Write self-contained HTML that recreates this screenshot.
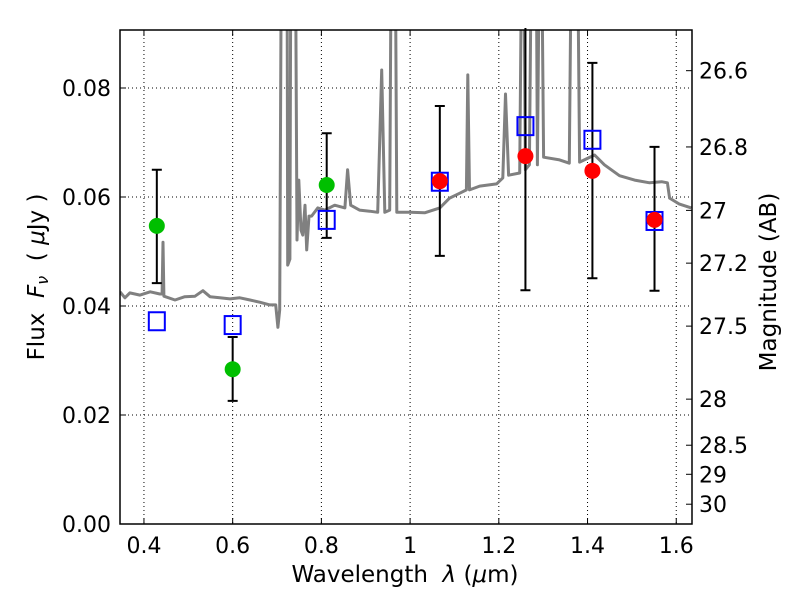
<!DOCTYPE html>
<html><head><meta charset="utf-8">
<style>
body{margin:0;background:#fff;}
svg{display:block;font-family:"DejaVu Sans","Liberation Sans",sans-serif;}
text{white-space:pre;}
</style></head>
<body>
<svg id="chart" width="800" height="600" viewBox="0 0 800 600" xmlns="http://www.w3.org/2000/svg">
<defs><clipPath id="clip"><rect x="120" y="30" width="572" height="494"/></clipPath></defs>
<rect x="0" y="0" width="800" height="600" fill="#fff"/>
<g id="grid"></g>
<g id="marks" clip-path="url(#clip)"></g>
<g id="errs"></g>
<g id="pts"></g>
<rect x="120" y="30" width="572" height="494" fill="none" stroke="#000" stroke-width="1.5"/>
<g id="axes"></g>
<text x="405" y="582" font-size="23" text-anchor="middle">Wavelength  <tspan font-style="italic">λ</tspan> (<tspan font-style="italic">μ</tspan>m)</text>
<text transform="translate(44,277) rotate(-90)" font-size="23" text-anchor="middle">Flux  <tspan font-style="italic">F<tspan font-size="16" dy="4">ν</tspan></tspan><tspan dy="-4">  ( </tspan><tspan font-style="italic">μ</tspan>Jy )</text>
<text transform="translate(776,282) rotate(-90)" font-size="23" text-anchor="middle">Magnitude (AB)</text>
</svg>
<script>
const specWave=[0.346,0.357,0.368,0.391,0.414,0.436,0.441,0.443,0.445,0.470,0.492,0.515,0.533,0.549,0.571,0.594,0.616,0.639,0.661,0.684,0.697,0.702,0.706,0.711,0.716,0.719,0.722,0.724,0.729,0.732,0.734,0.737,0.740,0.745,0.749,0.754,0.758,0.763,0.767,0.772,0.778,0.792,0.808,0.830,0.853,0.859,0.866,0.886,0.909,0.927,0.936,0.943,0.954,0.959,0.962,0.965,0.970,1.000,1.033,1.067,1.089,1.112,1.127,1.130,1.134,1.157,1.195,1.209,1.215,1.222,1.247,1.254,1.260,1.269,1.276,1.283,1.287,1.294,1.301,1.337,1.359,1.366,1.375,1.382,1.416,1.438,1.472,1.506,1.540,1.567,1.580,1.585,1.607,1.634];
const specFlux=[0.0426,0.0415,0.0424,0.0420,0.0426,0.0422,0.0422,0.0517,0.0418,0.0411,0.0417,0.0418,0.0428,0.0417,0.0415,0.0413,0.0415,0.0411,0.0407,0.0402,0.0402,0.0361,0.0393,0.13,0.13,0.13,0.13,0.0475,0.0486,0.13,0.13,0.13,0.13,0.0521,0.0631,0.0539,0.0530,0.0585,0.0503,0.0565,0.0565,0.0580,0.0576,0.0585,0.0580,0.0650,0.0585,0.0576,0.0574,0.0572,0.0833,0.0572,0.0576,0.13,0.13,0.13,0.0572,0.0572,0.0571,0.0580,0.0598,0.0607,0.0613,0.0824,0.0613,0.0620,0.0624,0.0635,0.0789,0.0640,0.0644,0.13,0.0650,0.0659,0.13,0.13,0.0659,0.13,0.0673,0.0668,0.0662,0.13,0.13,0.0664,0.0677,0.0659,0.0639,0.0631,0.0626,0.0628,0.0626,0.0598,0.0587,0.0580];
const greenWave=[0.429,0.600,0.812];
const greenFlux=[0.0547,0.0284,0.0622];
const greenHi=[0.0650,0.0343,0.0717];
const greenLo=[0.0442,0.0226,0.0525];
const redWave=[1.067,1.260,1.411,1.551];
const redFlux=[0.0629,0.0675,0.0648,0.0558];
const redHi=[0.0767,0.12,0.0846,0.0692];
const redLo=[0.0492,0.0429,0.0451,0.0428];
const modelWave=[0.429,0.600,0.812,1.067,1.260,1.411,1.551];
const modelFlux=[0.0372,0.0365,0.0558,0.0628,0.0730,0.0705,0.0556];
const xTicks=[0.4,0.6,0.8,1.0,1.2,1.4,1.6];
const xTickLabels=["0.4","0.6","0.8","1","1.2","1.4","1.6"];
const yTicks=[0,0.02,0.04,0.06,0.08];
const yTickLabels=["0.00","0.02","0.04","0.06","0.08"];
const magTicks=[26.6,26.8,27,27.2,27.5,28,28.5,29,30];
const magTickLabels=["26.6","26.8","27","27.2","27.5","28","28.5","29","30"];

const X0=120,X1=692,Y0=524,Y1=30;
const xMin=0.346,xMax=1.6355,yMin=0,yMax=0.09064;
const sx=v=>X0+(v-xMin)/(xMax-xMin)*(X1-X0);
const sy=v=>Y0-(v-yMin)/(yMax-yMin)*(Y0-Y1);
const magToFlux=m=>Math.pow(10,-0.4*(m-23.9));
const NS="http://www.w3.org/2000/svg";
function mk(tag,attrs,parent){const e=document.createElementNS(NS,tag);for(const k in attrs)e.setAttribute(k,attrs[k]);parent.appendChild(e);return e;}
const grid=document.getElementById('grid'),marks=document.getElementById('marks'),errs=document.getElementById('errs'),pts=document.getElementById('pts'),axes=document.getElementById('axes');

xTicks.forEach((t,i)=>{
  const x=sx(t);
  const g=mk('line',{x1:x,x2:x,y1:Y1,y2:Y0,stroke:'#000','stroke-width':1,'stroke-dasharray':'1,3'},grid);
  
  
  const a=mk('line',{x1:x,x2:x,y1:Y0,y2:Y0-6,stroke:'#000','stroke-width':1},axes);
  
  
  const b=mk('line',{x1:x,x2:x,y1:Y1,y2:Y1+6,stroke:'#000','stroke-width':1},axes);
  
  
  const l=mk('text',{x:x,y:Y0+29,'font-size':22,'text-anchor':'middle'},axes);
  l.textContent=xTickLabels[i];
  
  
});
yTicks.forEach((t,i)=>{
  const y=sy(t);
  if(t>0){const g=mk('line',{x1:X0,x2:X1,y1:y,y2:y,stroke:'#000','stroke-width':1,'stroke-dasharray':'1,3'},grid);
  
  }
  const a=mk('line',{x1:X0,x2:X0+6,y1:y,y2:y,stroke:'#000','stroke-width':1},axes);
  
  
  const l=mk('text',{x:X0-9,y:y+8,'font-size':22,'text-anchor':'end'},axes);
  l.textContent=yTickLabels[i];
  
  
});
magTicks.forEach((m,i)=>{
  const y=sy(magToFlux(m));
  const a=mk('line',{x1:X1,x2:X1-6,y1:y,y2:y,stroke:'#000','stroke-width':1},axes);
  
  
  const l=mk('text',{x:X1+7,y:y+8,'font-size':22},axes);
  l.textContent=magTickLabels[i];
  
  
});

const d=specWave.map((w,i)=>(i?'L':'M')+sx(w).toFixed(1)+','+sy(specFlux[i]).toFixed(1)).join('');
const sp=mk('path',{d:d,fill:'none',stroke:'#808080','stroke-width':3,'stroke-linejoin':'round'},marks);



function errbar(w,lo,hi){
  const x=sx(w),yl=sy(lo),yh=Math.max(sy(hi),Y1-2);
  const e=mk('path',{d:`M${x},${yl}V${yh}M${x-5},${yl}H${x+5}`+(sy(hi)>=Y1?`M${x-5},${yh}H${x+5}`:''),stroke:'#000','stroke-width':2,fill:'none'},errs);
  
  
}
greenWave.forEach((w,i)=>errbar(w,greenLo[i],greenHi[i]));
redWave.forEach((w,i)=>errbar(w,redLo[i],redHi[i]));
modelWave.forEach((w,i)=>{
  const r=mk('rect',{x:sx(w)-8,y:sy(modelFlux[i])-9,width:16,height:18,fill:'none',stroke:'#0000ff','stroke-width':2},pts);
  
  
});
greenWave.forEach((w,i)=>{
  const c=mk('circle',{cx:sx(w),cy:sy(greenFlux[i]),r:8,fill:'#00bf00'},pts);
  
  
});
redWave.forEach((w,i)=>{
  const c=mk('circle',{cx:sx(w),cy:sy(redFlux[i]),r:8,fill:'#ff0000'},pts);
  
  
});
</script>
</body></html>
